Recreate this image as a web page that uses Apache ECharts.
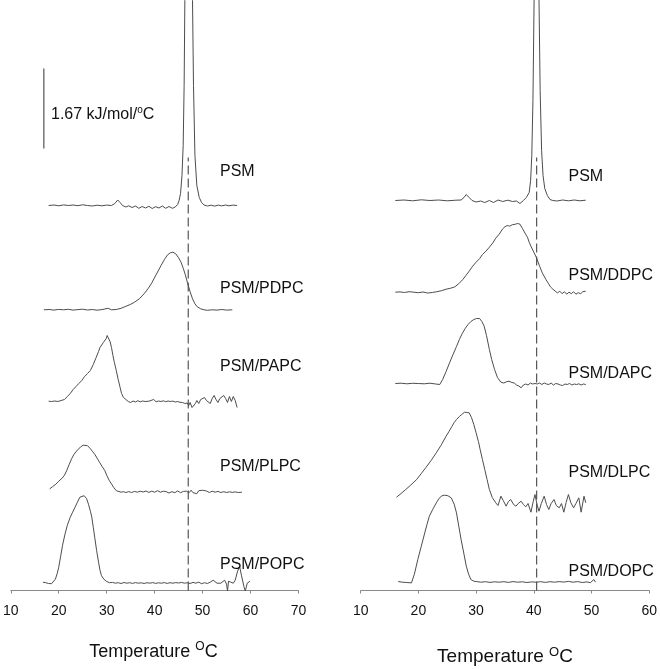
<!DOCTYPE html>
<html><head><meta charset="utf-8">
<script src="https://cdn.jsdelivr.net/npm/echarts@6/dist/echarts.min.js"></script>
<style>html,body{margin:0;padding:0;background:#fff}#c{width:660px;height:669px}</style>
</head><body><div id="c"></div><script>
// ---------- DATA (temperature °C, relative heat capacity in plot units; scale bar = 1.67 kJ/mol/°C) ----------
const xTicksLeft = [10, 20, 30, 40, 50, 60, 70];
const xTicksRight = [10, 20, 30, 40, 50, 60];
const namesLeft = ['PSM', 'PSM/PDPC', 'PSM/PAPC', 'PSM/PLPC', 'PSM/POPC'];
const namesRight = ['PSM', 'PSM/DDPC', 'PSM/DAPC', 'PSM/DLPC', 'PSM/DOPC'];
const offsetsLeft = [385, 280.7, 189, 98.3, 7.3];
const offsetsRight = [390, 298.3, 207, 86, 8.3];
const scaleBarLength = 80;       // corresponds to 1.67 kJ/mol/°C
const scaleBarBase = 442;
const scaleBarT = 16.9;
const refTempLeft = 47.0;
const refTempRight = 40.5;
const refLineTop = 433;

const psmL = [[17.9,0],[19.0,0.5],[20.0,-0.3],[21.0,0.6],[22.0,0],[23.0,0.5],[24.0,-0.2],[25.0,0.7],[26.0,0],[27.0,-0.5],[28.0,0.3],[29.0,-0.3],[30.0,0.4],[31.0,0],[31.7,2],[32.3,5.5],[32.8,3],[33.3,0],[34.0,-1.5],[34.6,-0.3],[35.3,-2],[36.0,-0.5],[36.7,-2.8],[37.4,-1],[38.1,-2.5],[38.8,-0.8],[39.5,-3],[40.2,-1.2],[40.9,-2.5],[41.6,-0.5],[42.3,-2.8],[43.0,-1],[43.7,-2.8],[44.3,-1.5],[44.8,1],[45.1,5],[45.4,12],[45.7,30],[45.95,60],[46.15,120],[46.3,205],[46.5,320],[47.1,480],[47.7,320],[47.9,205],[48.1,120],[48.4,50],[48.8,20],[49.3,8],[49.8,3],[50.3,0.5],[51.0,-0.5],[51.8,0.3],[52.5,-0.6],[53.3,0.4],[54.0,-0.4],[54.8,0.5],[55.5,-0.3],[56.3,0.4],[57.2,0]];
const pdpc = [[16.9,0],[18,0.3],[19,-0.3],[20,0.4],[21,0],[22,0.5],[23,-0.3],[24,0.2],[25,0.6],[26,-0.2],[27,0.3],[28,-0.4],[29,0.2],[30.3,1.5],[31,0],[32,0.3],[33,1.5],[34,3.5],[35,5.5],[35.8,7.6],[36.8,11],[37.8,16],[38.6,21],[39.3,26],[40.3,35],[41.3,44],[42.0,50],[42.7,55],[43.3,57],[43.8,57.6],[44.4,56],[45.0,52],[45.5,47.6],[46.0,41],[46.4,35],[46.9,26],[47.4,18],[47.9,11],[48.4,6],[48.9,3],[49.6,1],[50.3,0],[51,-0.5],[52,0],[53,-0.3],[54,0.3],[55,-0.3],[56.2,0]];
const papc = [[17.9,0.3],[18.5,0],[19.2,0.5],[19.8,0],[20.5,1],[21.2,2],[21.8,5],[22.4,8],[23.0,12],[23.6,15],[24.2,18],[24.8,21],[25.4,25],[26.0,28],[26.6,31],[27.2,37],[27.8,44],[28.3,50],[28.6,54],[28.9,55],[29.3,59],[29.6,58],[29.9,63],[30.1,66],[30.4,64],[30.7,60],[31.0,54],[31.3,46],[31.6,39],[32.0,31],[32.4,22],[32.8,14],[33.1,8],[33.5,4],[34.0,2],[34.5,0],[35,-1],[35.5,0.5],[36,-0.5],[36.5,0.8],[37,-0.3],[37.5,0.5],[38,0],[38.4,-0.5],[38.8,0.3],[39.2,-0.3],[39.8,2],[40.3,-0.3],[40.8,0.5],[41.3,0],[41.8,0.7],[42.3,-0.2],[42.8,0.5],[43.3,0],[43.8,0.4],[44.3,-0.5],[44.8,0],[45.3,-0.8],[45.8,-1],[46.3,-2],[46.8,-1.5],[47.1,-4],[47.4,-1],[47.8,-6],[48.2,-4],[48.5,-2],[48.8,1],[49.2,-2],[49.6,2],[50.0,0],[50.4,4],[50.8,1],[51.2,2],[51.6,-2],[52.0,3],[52.4,6],[52.8,2],[53.2,-1],[53.6,3],[54.0,1],[54.4,6],[54.8,3],[55.2,-1],[55.6,5],[56.0,0],[56.4,5],[56.8,1],[57.2,-6]];
const plpc = [[18.1,3.3],[18.7,5.5],[19.4,8],[20.0,11],[20.7,14],[21.2,17],[21.7,22],[22.2,28],[22.7,33.6],[23.2,38],[23.7,41],[24.1,43],[24.6,45.5],[25.1,47],[25.5,47.3],[26.0,46.5],[26.5,44],[27.0,41],[27.5,38],[28.0,34],[28.5,30],[29.0,26],[29.6,21.7],[30.0,17],[30.5,12],[31.0,8.3],[31.5,4.5],[32.0,1.5],[32.4,0],[33,0],[33.5,0.5],[34,-0.3],[34.6,0.6],[35.2,-0.3],[35.8,0.8],[36.4,0],[37,1],[37.6,0.2],[38.2,1.2],[38.8,-0.2],[39.4,1],[40,0],[40.6,1.5],[41.2,0],[41.8,1],[42.4,0.5],[43,-0.8],[43.6,0.5],[44.2,-0.5],[44.8,1.3],[45.4,-0.5],[46,0.8],[46.6,1],[47.2,-0.5],[47.6,2],[48.0,-0.5],[48.4,1],[48.8,-1.5],[49.2,1.5],[49.6,-0.5],[50.0,2],[50.4,0],[50.8,1.2],[51.4,-0.3],[52,1],[52.6,0],[53.2,0.8],[53.8,-0.3],[54.4,0.5],[55,-0.3],[55.6,0.4],[56.2,-0.2],[56.8,0.3],[57.5,-0.3],[58.2,0]];
const popc = [[16.7,1],[17.3,0.5],[17.9,-0.3],[18.5,-0.5],[18.9,0],[19.3,4],[19.7,10],[20.0,16],[20.4,27],[20.8,38],[21.3,49],[21.8,58],[22.4,66],[22.9,71],[23.4,76],[23.9,81],[24.4,86],[24.8,87.7],[25.3,87.5],[25.8,84.7],[26.2,79],[26.6,72],[26.9,66],[27.2,56],[27.5,46],[27.9,32.7],[28.3,21],[28.6,13],[28.9,7.7],[29.4,4],[30.0,1.7],[30.6,0.5],[31.2,0.8],[31.8,0],[32.4,0.5],[33,-0.3],[33.6,0.7],[34.2,0],[34.8,0.5],[35.4,-0.2],[36,0.6],[36.6,0],[37.2,0.4],[37.8,-0.3],[38.4,0.5],[39,0],[39.6,0.6],[40.2,-0.2],[40.8,0.4],[41.4,0],[42,0.6],[42.6,-0.2],[43.2,0.5],[43.8,0],[44.4,0.6],[45,0.2],[45.6,0.8],[46.2,0],[46.8,0.5],[47.4,-0.3],[48,0.8],[48.6,0],[49.2,1],[49.8,-0.5],[50.4,0.5],[51,-0.3],[51.6,1],[52.2,3],[52.6,1],[53.0,0],[53.4,2],[53.8,0],[54.2,1],[54.6,3],[55.0,-1],[55.2,-8],[55.4,2],[55.9,1],[56.4,0],[56.8,3],[57.3,12],[57.7,17],[58.1,8],[58.6,-3],[58.9,-8],[59.3,0],[59.9,2]];

const psmR = [[16.0,0],[17.5,0.5],[19,-0.3],[20.5,0.7],[22,0],[23.5,0.5],[25,-0.3],[26.5,0.3],[27.4,0.5],[27.9,3],[28.3,6],[28.8,3],[29.3,0],[30,-1.5],[30.8,-0.5],[31.5,-2],[32.3,0],[33,-2],[33.8,0.5],[34.6,-1],[35.5,0.3],[36.3,-1],[37.0,-0.5],[37.6,-3],[38.2,0],[38.7,3],[39.2,8],[39.45,20],[39.65,45],[39.85,100],[40.05,201],[40.25,320],[40.5,480],[40.75,320],[40.9,201],[41.1,110],[41.35,50],[41.6,25],[41.9,12],[42.35,5],[42.8,1],[43.3,0],[44,-0.5],[45,0.5],[46,-0.3],[47,0.5],[48,-0.3],[49,0.3]];
const ddpc = [[16.0,0],[16.8,0.3],[17.6,-0.3],[18.4,0.5],[19.2,0],[20.0,-0.5],[20.8,0.2],[21.6,-0.8],[22.4,-0.3],[23.2,0.5],[24.0,1.5],[24.8,3],[25.6,4],[26.3,5.3],[27.0,8.5],[27.7,12.7],[28.2,16.5],[28.8,21],[29.4,26],[30.0,30],[30.6,33.5],[31.1,37.7],[31.7,41],[32.3,45],[32.9,49.3],[33.4,54],[34.0,58],[34.6,63.3],[35.0,65.5],[35.4,66.7],[35.8,66],[36.3,67.5],[36.8,68],[37.2,68.7],[37.6,68],[38.0,64],[38.3,61],[38.6,57.7],[38.9,55],[39.2,50],[39.5,46],[40.0,40],[40.5,34],[41.0,26],[41.5,19],[42.1,12.7],[42.5,9],[42.9,5.3],[43.3,3],[43.6,1],[44.1,-0.7],[44.5,1],[44.9,-1.5],[45.3,0.5],[45.7,-2],[46.1,0],[46.5,-1.5],[46.9,0.5],[47.3,-2],[47.7,-0.5],[48.1,-1.5],[48.5,0.5],[49.0,1]];
const dapc = [[16.0,0],[17,0.3],[18,-0.3],[19,0.2],[20,0],[21,-0.3],[22,0.3],[23,-0.5],[23.7,-1],[24.2,4],[24.8,12],[25.4,20.7],[26.0,29],[26.6,37],[27.1,44],[27.6,50],[28.1,55],[28.6,59],[29.1,62],[29.6,64],[30.1,65],[30.6,65],[31.0,62],[31.4,57.3],[31.8,48],[32.3,34],[32.7,24],[33.2,14],[33.7,6],[34.3,1.3],[34.8,0.5],[35.3,1.8],[35.7,2.3],[36.2,1],[36.6,0.5],[37.0,-1.5],[37.4,-2.5],[37.8,-4.3],[38.2,-1.5],[38.6,-0.5],[39.0,-1.5],[39.4,0.5],[39.8,-0.5],[40.2,0],[40.6,-0.5],[41.0,0.5],[41.4,-1],[41.8,0.5],[42.2,-0.5],[42.6,-1],[43.0,0.5],[43.4,-1.5],[43.8,0],[44.2,-0.5],[44.6,-1.5],[45.0,-2],[45.4,-0.5],[45.8,-1],[46.2,0],[46.6,-1.5],[47.0,-0.5],[47.4,-1],[47.8,-0.3],[48.2,-1.5],[48.6,-0.5],[49.0,-1]];
const dlpc = [[16.2,7.3],[17.0,11],[17.8,15],[18.6,19],[19.7,25],[20.5,31],[21.3,37],[22.2,44],[23.1,51.7],[23.9,59],[24.8,68.3],[25.3,73],[25.8,78],[26.2,82],[26.6,85],[27.1,88],[27.5,90],[28.0,92.3],[28.4,92],[28.8,91.7],[29.2,87],[29.6,80],[30.0,71.7],[30.4,63],[30.7,55],[31.1,45],[31.5,35],[31.9,25],[32.3,15],[32.8,7],[33.4,1.7],[33.8,-1],[34.3,8.3],[34.7,4],[35.2,-1.7],[35.6,3],[36.0,5],[36.5,0],[36.9,-1.7],[37.3,1],[37.8,3.3],[38.2,0],[38.6,-2.3],[39.0,1],[39.5,-7.7],[39.9,3],[40.2,10],[40.6,-1],[40.9,-6.7],[41.3,1],[41.8,8.3],[42.2,0],[42.6,-5],[43.0,1],[43.5,5],[43.9,-1],[44.4,-3.3],[44.8,1],[45.2,-7.7],[45.6,2],[46.0,10],[46.4,2],[46.9,-3.3],[47.3,1],[47.8,6.7],[48.2,-7.7],[48.7,8.3],[49.0,1.7]];
const dopc = [[16.5,0.7],[17.2,0],[18.0,-0.3],[18.8,-0.7],[19.3,8],[19.9,22.7],[20.5,36],[21.1,49.3],[21.5,58],[21.9,66],[22.5,73],[23.1,79.3],[23.6,84],[24.1,86.5],[24.5,87],[25.1,86.5],[25.7,84.3],[26.2,78],[26.6,69.3],[27.0,56],[27.4,42.7],[27.9,28],[28.3,16],[28.7,8],[29.1,2.7],[29.6,1],[30.0,0.7],[30.8,0],[31.6,0.5],[32.4,-0.2],[33.2,0.4],[34.0,0],[34.8,0.5],[35.6,-0.2],[36.4,0.6],[37.2,0],[38.0,0.4],[38.8,-0.3],[39.6,0.3],[40.4,0],[41.2,0.5],[42.0,-0.2],[42.8,0.5],[43.6,0],[44.4,0.6],[45.2,0.1],[46.0,0.8],[46.8,0],[47.6,0.6],[48.4,-0.3],[49.2,0.3],[49.8,-0.5],[50.4,2.7],[50.7,0]];

const curvesLeft = [psmL, pdpc, papc, plpc, popc];
const curvesRight = [psmR, ddpc, dapc, dlpc, dopc];

// ---------- CHART ----------
const FONT = '"Liberation Sans", Arial, sans-serif';
const LINE = '#4d4d4d';
const chart = echarts.init(document.getElementById('c'), null, {renderer: 'canvas'});

function shift(data, off) { return data.map(p => [p[0], p[1] + off]); }

const series = [];
curvesLeft.forEach((d, i) => series.push({
  type: 'line', name: namesLeft[i] + ' (L)', xAxisIndex: 0, yAxisIndex: 0, data: shift(d, offsetsLeft[i]),
  showSymbol: false, symbol: 'none', smooth: false, lineStyle: {color: LINE, width: 1}, silent: true, z: 3
}));
curvesRight.forEach((d, i) => series.push({
  type: 'line', name: namesRight[i] + ' (R)', xAxisIndex: 1, yAxisIndex: 1, data: shift(d, offsetsRight[i]),
  showSymbol: false, symbol: 'none', smooth: false, lineStyle: {color: LINE, width: 1}, silent: true, z: 3
}));
// dashed reference lines
series.push({type: 'line', xAxisIndex: 0, yAxisIndex: 0, data: [[refTempLeft, 0], [refTempLeft, refLineTop]],
  showSymbol: false, symbol: 'none', lineStyle: {color: '#333', width: 1, type: [9, 4]}, silent: true, z: 2});
series.push({type: 'line', xAxisIndex: 1, yAxisIndex: 1, data: [[refTempRight, 0], [refTempRight, refLineTop]],
  showSymbol: false, symbol: 'none', lineStyle: {color: '#333', width: 1, type: [9, 4]}, silent: true, z: 2});
// scale bar
series.push({type: 'line', xAxisIndex: 0, yAxisIndex: 0, data: [[scaleBarT, scaleBarBase], [scaleBarT, scaleBarBase + scaleBarLength]],
  showSymbol: false, symbol: 'none', lineStyle: {color: '#333', width: 1}, silent: true, z: 3});

function xAxisCfg(idx, ticks) {
  return {
    type: 'value', gridIndex: idx, min: ticks[0], max: ticks[ticks.length - 1], interval: ticks[1] - ticks[0],
    axisLine: {show: true, lineStyle: {color: '#8a8a8a', width: 1}},
    axisTick: {show: true, length: 3, inside: false, lineStyle: {color: '#8a8a8a'}},
    axisLabel: {fontSize: 14, color: '#111', fontFamily: FONT, margin: 14},
    splitLine: {show: false}
  };
}
function yAxisCfg(idx) {
  return {type: 'value', gridIndex: idx, min: 0, max: 590.5, show: false, splitLine: {show: false}};
}

const labelPosLeft = [[220, 172], [220, 288.5], [220, 367], [220, 467], [220, 564.5]];
const labelPosRight = [[568.5, 177], [568.5, 276], [568.5, 373.5], [568.5, 473], [568.5, 572]];

const graphic = [];
namesLeft.forEach((n, i) => graphic.push({type: 'text', x: labelPosLeft[i][0], y: labelPosLeft[i][1],
  style: {text: n, font: '16px ' + FONT, fill: '#111', align: 'left', verticalAlign: 'middle'}, z: 10}));
namesRight.forEach((n, i) => graphic.push({type: 'text', x: labelPosRight[i][0], y: labelPosRight[i][1],
  style: {text: n, font: '16px ' + FONT, fill: '#111', align: 'left', verticalAlign: 'middle'}, z: 10}));

function titleText(x, y, size) {
  return {type: 'text', x: x, y: y, z: 10, style: {
    text: '{t|Temperature }{s|O}{t|C}', align: 'center', verticalAlign: 'middle', fill: '#111',
    rich: {
      t: {fontSize: size, fontFamily: FONT, fill: '#111', lineHeight: size + 4},
      s: {fontSize: Math.round(size * 0.68), fontFamily: FONT, fill: '#111', verticalAlign: 'top', lineHeight: Math.round(size * 0.68)}
    }
  }};
}
graphic.push(titleText(153.5, 652, 18));
graphic.push(titleText(505, 657, 19));
graphic.push({type: 'text', x: 51, y: 115, z: 10, style: {
  text: '{t|1.67 kJ/mol/}{s|o}{t|C}', align: 'left', verticalAlign: 'middle', fill: '#111',
  rich: {
    t: {fontSize: 16, fontFamily: FONT, fill: '#111', lineHeight: 20},
    s: {fontSize: 10, fontFamily: FONT, fill: '#111', verticalAlign: 'top', lineHeight: 10}
  }
}});

chart.setOption({
  animation: false,
  backgroundColor: '#fff',
  grid: [
    {left: 8.5, width: 290, top: 0, height: 590.5, containLabel: false},
    {left: 360.7, width: 290, top: 0, height: 590.5, containLabel: false}
  ],
  xAxis: [xAxisCfg(0, xTicksLeft), xAxisCfg(1, xTicksRight)],
  yAxis: [yAxisCfg(0), yAxisCfg(1)],
  series: series,
  graphic: graphic
});
</script></body></html>
